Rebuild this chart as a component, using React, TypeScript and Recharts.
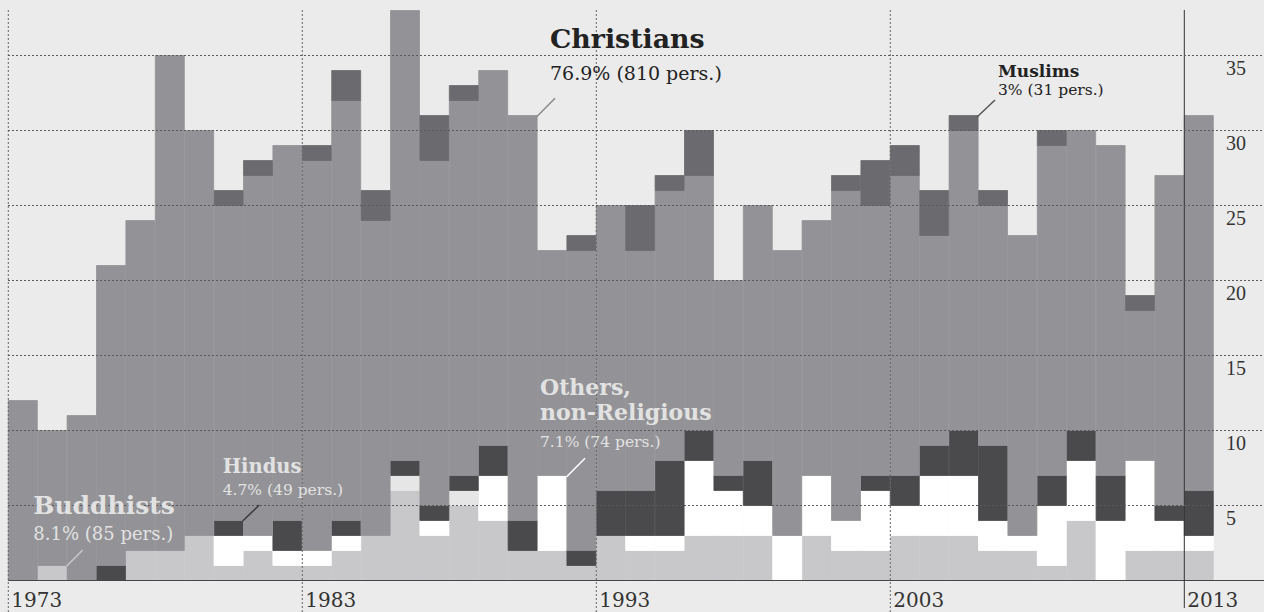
import React from "react";
import { BarChart, Bar, XAxis, YAxis } from "recharts";

const YEARS = [
  1973, 1974, 1975, 1976, 1977, 1978, 1979, 1980, 1981, 1982,
  1983, 1984, 1985, 1986, 1987, 1988, 1989, 1990, 1991, 1992,
  1993, 1994, 1995, 1996, 1997, 1998, 1999, 2000, 2001, 2002,
  2003, 2004, 2005, 2006, 2007, 2008, 2009, 2010, 2011, 2012, 2013,
];
const BUDDHISTS = [
  0, 1, 0, 0, 2, 2, 3, 1, 2, 1,
  1, 2, 3, 6, 3, 5, 4, 2, 2, 1,
  3, 2, 2, 3, 3, 3, 0, 3, 2, 2,
  3, 3, 3, 2, 2, 1, 4, 0, 2, 2, 2,
];
const OTHERS = [
  0, 0, 0, 0, 0, 0, 0, 2, 1, 1,
  1, 1, 0, 0, 1, 0, 3, 0, 5, 0,
  0, 1, 1, 5, 3, 2, 3, 4, 2, 4,
  2, 4, 4, 2, 1, 4, 4, 4, 6, 2, 1,
];
const UNKNOWN = [
  0, 0, 0, 0, 0, 0, 0, 0, 0, 0,
  0, 0, 0, 1, 0, 1, 0, 0, 0, 0,
  0, 0, 0, 0, 0, 0, 0, 0, 0, 0,
  0, 0, 0, 0, 0, 0, 0, 0, 0, 0, 0,
];
const HINDUS = [
  0, 0, 0, 1, 0, 0, 0, 1, 0, 2,
  0, 1, 0, 1, 1, 1, 2, 2, 0, 1,
  3, 3, 5, 2, 1, 3, 0, 0, 0, 1,
  2, 2, 3, 5, 0, 2, 2, 3, 0, 1, 3,
];
const CHRISTIANS = [
  12, 9, 11, 20, 22, 33, 27, 21, 24, 25,
  26, 28, 21, 30, 23, 25, 25, 27, 15, 20,
  19, 16, 18, 17, 13, 17, 19, 17, 22, 18,
  20, 14, 20, 16, 20, 22, 20, 22, 10, 22, 25,
];
const MUSLIMS = [
  0, 0, 0, 0, 0, 0, 0, 1, 1, 0,
  1, 2, 2, 0, 3, 1, 0, 0, 0, 1,
  0, 3, 1, 3, 0, 0, 0, 0, 1, 3,
  2, 3, 1, 1, 0, 1, 0, 0, 1, 0, 0,
];
const Y_TICKS = [5, 10, 15, 20, 25, 30, 35];
const X_LABELS = [1973, 1983, 1993, 2003, 2013];

const data = YEARS.map((year, i) => ({
  year,
  buddhists: BUDDHISTS[i],
  others: OTHERS[i],
  unknown: UNKNOWN[i],
  hindus: HINDUS[i],
  christians: CHRISTIANS[i],
  muslims: MUSLIMS[i],
}));

const SERIES = [
  { key: "buddhists", color: "#c8c8ca" },
  { key: "others", color: "#ffffff" },
  { key: "unknown", color: "#e6e6e6" },
  { key: "hindus", color: "#4a4a4d" },
  { key: "christians", color: "#939397" },
  { key: "muslims", color: "#6b6b6f" },
];

const W = 1264;
const H = 612;
const SERIF = "'DejaVu Serif', serif";

function YTick(props: any) {
  const { y, payload } = props;
  return (
    <g>
      <line x1={8} x2={W} y1={y} y2={y} stroke="#5a5a5a" strokeDasharray="2 2" strokeWidth={1} />
      <text x={1226} y={y + 19.5} fontFamily="'Liberation Serif', serif" fontSize={20} fill="#333">
        {payload.value}
      </text>
    </g>
  );
}

function XTick(props: any) {
  const { x, y, payload, index } = props;
  const year = payload.value;
  const bw = props.width ? props.width / YEARS.length : 29.4;
  const lx = x - bw / 2;
  const axisLine = index === 0 ? (
    <line x1={lx} x2={W} y1={y} y2={y} stroke="#444" strokeWidth={1.2} />
  ) : null;
  if (!X_LABELS.includes(year)) return <g>{axisLine}</g>;
  const solid = year === 2013;
  return (
    <g>
      {axisLine}
      <line
        x1={lx}
        x2={lx}
        y1={10}
        y2={solid ? 608 : H}
        stroke={solid ? "#333" : "#666"}
        strokeWidth={1}
        strokeDasharray={solid ? undefined : "2 2"}
      />
      <text x={lx + 3} y={607} fontFamily={SERIF} fontSize={20} fill="#333">
        {year}
      </text>
    </g>
  );
}

export default function App() {
  return (
    <div
      style={{
        position: "fixed",
        left: 0,
        top: 0,
        width: W,
        height: H,
        background: "#ebebeb",
        overflow: "hidden",
      }}
    >
      <BarChart
        width={W}
        height={H}
        data={data}
        margin={{ top: 10.5, right: 0, left: 8.3, bottom: 0 }}
        barCategoryGap={0}
        barGap={0}
      >
        {SERIES.map((s) => (
          <Bar
            key={s.key}
            dataKey={s.key}
            stackId="a"
            fill={s.color}
            stroke={s.color}
            strokeWidth={0.8}
            isAnimationActive={false}
          />
        ))}
        <XAxis
          dataKey="year"
          height={31.5}
          interval={0}
          axisLine={false}
          tickLine={false}
          tickSize={0}
          tickMargin={0}
          tick={<XTick />}
        />
        <YAxis
          orientation="right"
          width={50.3}
          domain={[0, 38]}
          ticks={Y_TICKS}
          axisLine={false}
          tickLine={false}
          tickSize={0}
          tickMargin={0}
          tick={<YTick />}
        />
      </BarChart>
      <svg
        width={W}
        height={H}
        style={{ position: "absolute", left: 0, top: 0, pointerEvents: "none" }}
      >
        <g fontFamily={SERIF}>
          <text x={550} y={48.3} fontSize={26.8} fontWeight="bold" fill="#222">Christians</text>
          <text x={550} y={80} fontSize={19} fill="#222">76.9% (810 pers.)</text>
          <line x1={536.7} y1={116.7} x2={555} y2={98.3} stroke="#8a8a8a" strokeWidth={1.5} />

          <text x={998} y={76.7} fontSize={17} fontWeight="bold" fill="#222">Muslims</text>
          <text x={998} y={95} fontSize={15.5} fill="#222">3% (31 pers.)</text>
          <line x1={977.3} y1={116.7} x2={995} y2={100} stroke="#555" strokeWidth={1.5} />

          <text x={540} y={395} fontSize={22} fontWeight="bold" fill="#e2e2e2">Others,</text>
          <text x={540} y={420} fontSize={22} fontWeight="bold" fill="#e2e2e2">non-Religious</text>
          <text x={540} y={446.7} fontSize={15.5} fill="#e2e2e2">7.1% (74 pers.)</text>
          <line x1={566.7} y1={476.7} x2={585} y2={458.3} stroke="#ffffff" strokeWidth={1.5} />

          <text x={222.7} y={473.3} fontSize={19.5} fontWeight="bold" fill="#e2e2e2">Hindus</text>
          <text x={222.7} y={495} fontSize={15.5} fill="#e2e2e2">4.7% (49 pers.)</text>
          <line x1={242.7} y1={521} x2={259.3} y2={505} stroke="#3a3a3a" strokeWidth={1.5} />

          <text x={33.3} y={514} fontSize={25} fontWeight="bold" fill="#e2e2e2">Buddhists</text>
          <text x={33.3} y={540} fontSize={18} fill="#e2e2e2">8.1% (85 pers.)</text>
          <line x1={66.7} y1={566} x2={82.7} y2={550} stroke="#c8c8ca" strokeWidth={1.5} />
        </g>
      </svg>
    </div>
  );
}
